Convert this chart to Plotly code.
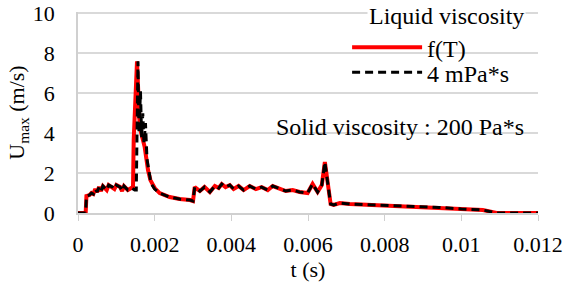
import plotly.graph_objects as go

# f(T) liquid viscosity series
t_fT = [0, 0.00020, 0.00022, 0.00030, 0.00035, 0.00040, 0.00045, 0.00050, 0.00055, 0.00060,
        0.00065, 0.00075, 0.00080, 0.00090, 0.00095, 0.00100, 0.00110, 0.00115, 0.00120,
        0.00130, 0.00135, 0.00140, 0.001435, 0.001453, 0.001539, 0.00161, 0.00174, 0.001826,
        0.001889, 0.0020, 0.00213, 0.00239, 0.00265, 0.00292, 0.00300, 0.003045, 0.00318,
        0.00330, 0.00344, 0.00357, 0.00367, 0.00375, 0.00385, 0.00396, 0.00406, 0.00419,
        0.00432, 0.00448, 0.00464, 0.00479, 0.00495, 0.00508, 0.00526, 0.00542, 0.00560,
        0.00578, 0.00599, 0.00612, 0.00625, 0.00636, 0.00644, 0.00651, 0.00659, 0.00667,
        0.00683, 0.00709, 0.0080, 0.0090, 0.00943, 0.0100, 0.01056, 0.01092, 0.0110, 0.0120]
u_fT = [0, 0, 0.85, 0.9, 1.0, 0.95, 1.2, 1.05, 1.3, 1.1,
        1.35, 1.15, 1.4, 1.3, 1.2, 1.4, 1.3, 1.1, 1.35,
        1.15, 1.2, 1.25, 1.3, 3.65, 7.6, 4.3, 3.3, 2.15,
        1.65, 1.25, 1.0, 0.8, 0.7, 0.65, 0.6, 1.3, 1.1,
        1.3, 1.05, 1.35, 1.25, 1.45, 1.3, 1.4, 1.2, 1.35,
        1.15, 1.35, 1.2, 1.3, 1.15, 1.35, 1.2, 1.1, 1.15,
        1.05, 1.0, 1.45, 1.05, 1.4, 2.55, 1.5, 0.45, 0.4,
        0.5, 0.45, 0.38, 0.32, 0.28, 0.2, 0.15, 0.0, 0.0, 0.0]

# 4 mPa*s liquid viscosity series
t_4m = [0, 0.00020, 0.00022, 0.00030, 0.00035, 0.00040, 0.00045, 0.00050, 0.00055, 0.00060,
        0.00065, 0.00075, 0.00080, 0.00090, 0.00095, 0.00100, 0.00110, 0.00115, 0.00120,
        0.00130, 0.00135, 0.00140, 0.00148, 0.00152, 0.001565, 0.00159, 0.00163, 0.00166,
        0.00169, 0.00172, 0.00176, 0.00180, 0.00186, 0.00190, 0.0020, 0.00213, 0.00239,
        0.00265, 0.00292, 0.00300, 0.003045, 0.00318,
        0.00330, 0.00344, 0.00357, 0.00367, 0.00375, 0.00385, 0.00396, 0.00406, 0.00419,
        0.00432, 0.00448, 0.00464, 0.00479, 0.00495, 0.00508, 0.00526, 0.00542, 0.00560,
        0.00578, 0.00599, 0.00612, 0.00625, 0.00636, 0.00644, 0.00651, 0.00659, 0.00667,
        0.00683, 0.00709, 0.0080, 0.0090, 0.00943, 0.0100, 0.01056, 0.01092, 0.0110, 0.0120]
u_4m = [0, 0, 0.85, 0.9, 1.0, 0.95, 1.2, 1.05, 1.3, 1.1,
        1.35, 1.15, 1.4, 1.3, 1.2, 1.4, 1.3, 1.1, 1.35,
        1.15, 1.2, 1.25, 1.15, 1.15, 7.6, 4.0, 6.1, 3.8,
        5.0, 3.5, 4.5, 2.7, 2.0, 1.5, 1.2, 1.0, 0.8,
        0.7, 0.65, 0.6, 1.3, 1.1,
        1.3, 1.05, 1.35, 1.25, 1.45, 1.3, 1.4, 1.2, 1.35,
        1.15, 1.35, 1.2, 1.3, 1.15, 1.35, 1.2, 1.1, 1.15,
        1.05, 1.0, 1.45, 1.05, 1.4, 2.55, 1.5, 0.45, 0.4,
        0.5, 0.45, 0.38, 0.32, 0.28, 0.2, 0.15, 0.0, 0.0, 0.0]

x_tickvals = [0, 0.002, 0.004, 0.006, 0.008, 0.01, 0.012]
x_ticktext = ["0", "0.002", "0.004", "0.006", "0.008", "0.01", "0.012"]
y_tickvals = [0, 2, 4, 6, 8, 10]

FONT = "Liberation Serif, Times New Roman, serif"

fig = go.Figure()
fig.add_trace(go.Scatter(x=t_fT, y=u_fT, mode="lines", name="f(T)", legend="legend",
                         line=dict(color="#ff0000", width=4)))
fig.add_trace(go.Scatter(x=t_4m, y=u_4m, mode="lines", name="4 mPa*s", legend="legend2",
                         line=dict(color="#000000", width=3, dash="8px,5px")))

leg_common = dict(xanchor="left", yanchor="top", bgcolor="rgba(255,255,255,0)",
                  borderwidth=0, font=dict(family=FONT, size=24, color="black"),
                  itemwidth=70)

fig.update_layout(
    width=577, height=286,
    margin=dict(l=78, r=39, t=12, b=73, autoexpand=False),
    paper_bgcolor="white", plot_bgcolor="white",
    font=dict(family=FONT, size=22, color="black"),
    showlegend=True,
    legend=dict(x=0.585, y=0.935, **leg_common),
    legend2=dict(x=0.585, y=0.81, **leg_common),
    xaxis=dict(range=[0, 0.012], tickvals=x_tickvals, ticktext=x_ticktext,
               automargin=False,
               showgrid=False, zeroline=False, showline=True, linecolor="#d0d0d0",
               linewidth=1.5, ticks="outside", tickcolor="#d0d0d0", ticklen=6,
               ticklabelstandoff=5,
               tickfont=dict(family=FONT, size=22),
               title=dict(text="t (s)", font=dict(family=FONT, size=22), standoff=4)),
    yaxis=dict(range=[0, 10.07], tickvals=y_tickvals, automargin=False,
               showgrid=True, gridcolor="#d9d9d9", gridwidth=1.5, zeroline=False,
               showline=True, linecolor="#d0d0d0", linewidth=1.5, ticks="",
               ticklabelstandoff=17,
               tickfont=dict(family=FONT, size=22),
               title=dict(text="U<sub>max</sub> (m/s)", font=dict(family=FONT, size=22), standoff=2)),
    annotations=[
        dict(text="Liquid viscosity", xref="paper", yref="paper",
             x=(446 - 78) / 460, y=(213 - 16) / 201, xanchor="center", yanchor="middle",
             showarrow=False, bgcolor="white", font=dict(family=FONT, size=24)),
        dict(text="Solid viscosity : 200 Pa*s", xref="x", yref="y",
             x=0.00839, y=4.3, xanchor="center", yanchor="middle",
             showarrow=False, font=dict(family=FONT, size=24)),
    ],
)

fig.write_html("out.html", config={"displayModeBar": False},
               post_script="document.body.style.margin='0';")
